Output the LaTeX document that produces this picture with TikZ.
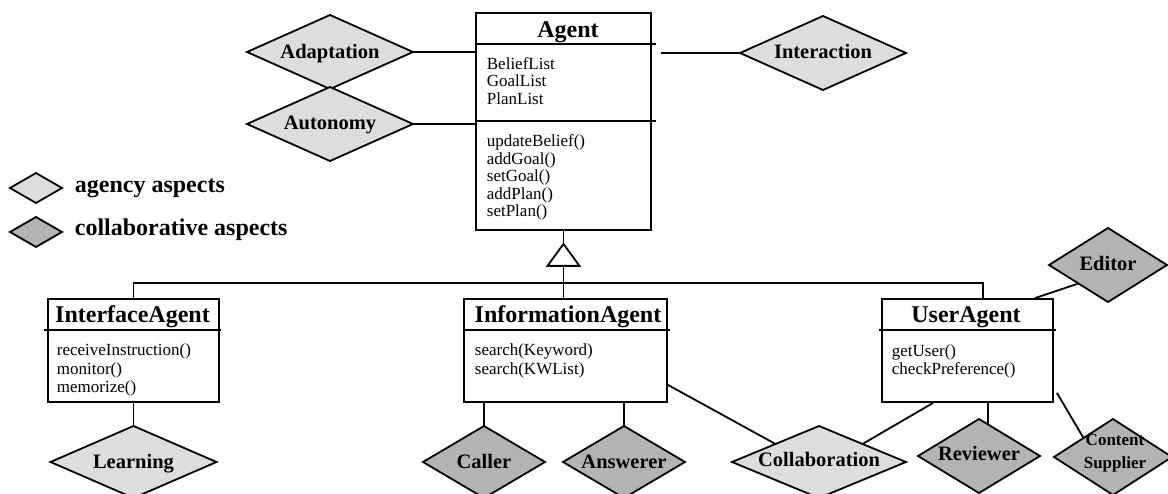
\documentclass[tikz,border=0pt]{standalone}
\usepackage{fontspec}
\setmainfont{Liberation Serif}
\usetikzlibrary{shapes.geometric,calc}
\definecolor{agencyc}{RGB}{221,221,221}
\definecolor{collabc}{RGB}{179,179,179}
\begin{document}
\begin{tikzpicture}[x=1pt,y=-1pt,
  line width=1.8pt,
  clsbox/.style={draw, inner sep=0pt, fill=white},
  dia/.style={diamond, draw, inner sep=0pt, outer sep=0pt},
  agency/.style={dia, fill=agencyc, minimum width=166pt, minimum height=74pt},
  collab/.style={dia, fill=collabc, minimum width=122pt, minimum height=72pt},
  dlabel/.style={font=\bfseries\fontsize{20.5}{22}\selectfont, anchor=base, inner sep=0pt},
  ctitle/.style={font=\bfseries\fontsize{24}{26}\selectfont, anchor=base, inner sep=0pt},
  member/.style={font=\fontsize{17}{18}\selectfont, anchor=base west, inner sep=0pt},
  legtext/.style={font=\bfseries\fontsize{24}{26}\selectfont, anchor=base west, inner sep=0pt},
  cslabel/.style={font=\bfseries\fontsize{17}{18}\selectfont, anchor=base, inner sep=0pt},
]
\useasboundingbox (0,0) rectangle (1168,494);

% ---------- class boxes ----------
\node[clsbox, minimum width=175pt, minimum height=217pt] (agent) at (563.5,121.5) {};
\draw ($(agent.north west)+(0,32)$) -- ($(agent.north east)+(4,32)$);
\draw ($(agent.north west)+(0,109)$) -- ($(agent.north east)+(4,109)$);
\node[ctitle] (agentT) at (568,38) {Agent};
\foreach \t [count=\i] in {BeliefList,GoalList,PlanList}
  \node[member] (agA\i) at (486,52+17.5*\i) {\t};
\foreach \t [count=\i] in {updateBelief(),addGoal(),setGoal(),addPlan(),setPlan()}
  \node[member] (agM\i) at (486,129.5+17.5*\i) {\t};

\node[clsbox, minimum width=171pt, minimum height=103pt] (iface) at (133.5,350.5) {};
\draw ($(iface.north west)+(-3,32)$) -- ($(iface.north east)+(1,32)$);
\node[ctitle] (ifaceT) at (132.5,323) {InterfaceAgent};
\foreach \t [count=\i] in {receiveInstruction(),monitor(),memorize()}
  \node[member] (ifM\i) at (56,338+18*\i) {\t};

\node[clsbox, minimum width=203pt, minimum height=103pt] (info) at (565.5,350.5) {};
\draw ($(info.north west)+(0,32)$) -- ($(info.north east)+(2,32)$);
\node[ctitle] (infoT) at (568,323) {InformationAgent};
\foreach \t [count=\i] in {search(Keyword),search(KWList)}
  \node[member] (inM\i) at (474,338+18*\i) {\t};

\node[clsbox, minimum width=171pt, minimum height=103pt] (user) at (967.5,350.5) {};
\draw ($(user.north west)+(-2,32)$) -- ($(user.north east)+(2,32)$);
\node[ctitle] (userT) at (966,323) {UserAgent};
\foreach \t [count=\i] in {getUser(),checkPreference()}
  \node[member] (usM\i) at (891,339+18*\i) {\t};

% ---------- aspect diamonds ----------
\node[agency] (adapt) at (330,52) {};
\node[agency] (auton) at (330,124) {};
\node[agency] (inter) at (823,53) {};
\node[agency, minimum height=72pt] (learn) at (133.5,462) {};
\node[agency, minimum width=174pt, minimum height=72pt] (collabD) at (819,462) {};
\node[collab] (caller) at (484,462) {};
\node[collab] (answer) at (624,462) {};
\node[collab, minimum height=74pt] (rev) at (979,456) {};
\node[collab, minimum width=118pt, minimum height=74pt] (editor) at (1108,265) {};
\node[collab, minimum width=118pt, minimum height=76pt] (cs) at (1113,457) {};

\node[dlabel] (adaptL) at ($(adapt)+(0,7)$) {Adaptation};
\node[dlabel] (autonL) at ($(auton)+(0,6)$) {Autonomy};
\node[dlabel] (interL) at ($(inter)+(0,6)$) {Interaction};
\node[dlabel] (learnL) at ($(learn)+(0,6)$) {Learning};
\node[dlabel] (collabL) at ($(collabD)+(0,4)$) {Collaboration};
\node[dlabel] (callerL) at ($(caller)+(0,6)$) {Caller};
\node[dlabel] (answerL) at ($(answer)+(0,6)$) {Answerer};
\node[dlabel] (revL) at ($(rev)+(0,4)$) {Reviewer};
\node[dlabel] (editorL) at ($(editor)+(0,6)$) {Editor};
\node[cslabel] (csL1) at (1115,446) {Content};
\node[cslabel] (csL2) at (1115,468) {Supplier};

% ---------- legend ----------
\node[dia, fill=agencyc, minimum width=52pt, minimum height=30pt] (leg1) at (36,188) {};
\node[dia, fill=collabc, minimum width=52pt, minimum height=30pt] (leg2) at (36,232) {};
\node[legtext] (legT1) at (74,193) {agency aspects};
\node[legtext] (legT2) at (74,236) {collaborative aspects};

% ---------- connectors ----------
\draw (adapt.east) -- (adapt.east -| agent.west);
\draw (auton.east) -- (auton.east -| agent.west);
\draw[shorten >=9pt] (inter.west) -- (inter.west -| agent.east);

\coordinate (triA) at ($(agent.south)+(0,13)$);
\coordinate (triB) at ($(triA)+(0,22)$);
\coordinate (bus) at (0,283);
\coordinate (userTop) at ($(user.north)+(15.5,0)$);
\draw (agent.south) -- (triA);
\draw[fill=white] (triA) -- ++(-16,22) -- ++(32,0) -- cycle;
\draw (triB) -- (triB |- info.north);
\draw (iface.north) |- (bus -| userTop) -- (userTop);

\draw (iface.south) -- (learn.north);
\draw (caller.north |- info.south) -- (caller.north);
\draw (answer.north |- info.south) -- (answer.north);
\draw ($(info.south east)+(0,-18)$) -- (collabD.north west);
\draw ($(user.south west)+(52,0)$) -- (collabD.north east);
\draw ($(user.south)+(20.5,0)$) -- ($(rev.north)+(9,5.5)$);
\draw ($(user.north)+(67.5,0)$) -- (editor.south west);
\draw ($(user.south east)+(3,-10)$) -- (cs.north west);
\end{tikzpicture}
\end{document}
